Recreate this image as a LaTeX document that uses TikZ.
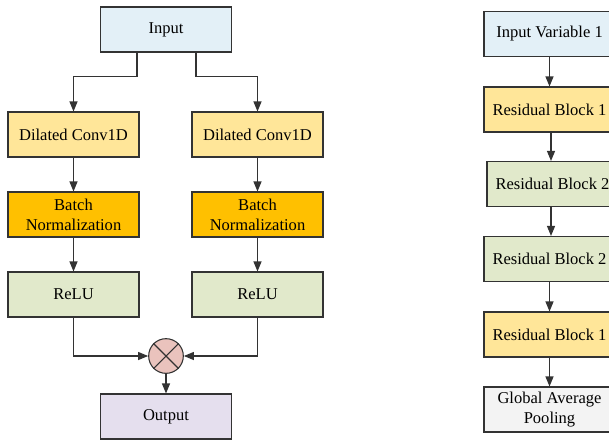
\documentclass[tikz,border=0pt]{standalone}
\usepackage{fontspec}
\setmainfont{Liberation Serif}
\usetikzlibrary{calc,arrows.meta}
\definecolor{inblue}{HTML}{E3F0F7}
\definecolor{convyellow}{HTML}{FFE699}
\definecolor{bnorange}{HTML}{FFC000}
\definecolor{relugreen}{HTML}{E1E9CB}
\definecolor{multpink}{HTML}{EAC3BD}
\definecolor{outviolet}{HTML}{E5DFEE}
\definecolor{poolgrey}{HTML}{F3F3F3}
\definecolor{edge}{HTML}{333333}
\tikzset{
	box/.style={draw=edge,line width=0.8pt,minimum width=98.25pt,minimum height=33.75pt,inner sep=0pt,align=center,font=\fontsize{12.4}{15.2}\selectfont},
	arr/.style={draw=edge,line width=0.8pt,-{Triangle[length=7.5pt,width=6pt]}}
}
\newcommand{\makebranch}[2]{
	\node[box,fill=convyellow] (conv#1) at (#2,134.5) {Dilated Conv1D};
	\node[box,fill=bnorange] (bn#1) at (#2,214.5) {Batch\\Normalization};
	\node[box,fill=relugreen] (relu#1) at (#2,294.5) {ReLU};
	\draw[arr] (conv#1) -- (bn#1);
	\draw[arr] (bn#1) -- (relu#1);
}

\begin{document}
\begin{tikzpicture}[x=0.75pt,y=-0.75pt]
		\useasboundingbox (0,0) rectangle (609,439);
		\clip (0,0) rectangle (609,439);
		% left: dilated branches
		\node[box,fill=inblue] (in) at (166,29.5) {Input};
		\makebranch{L}{73.5}
		\makebranch{R}{257.5}
		\draw[arr] ($(in.south)+(-29,0)$) -- ++(0,24) -| (convL);
		\draw[arr] ($(in.south)+(30,0)$) -- ++(0,24) -| (convR);
		\node[circle,draw=edge,line width=0.8pt,fill=multpink,minimum size=26pt,inner sep=0pt] (mult) at (166,356) {};
		\draw[edge,line width=0.8pt] (mult.45) -- (mult.225);
		\draw[edge,line width=0.8pt] (mult.135) -- (mult.315);
		\draw[arr] (reluL) |- (mult);
		\draw[arr] (reluR) |- (mult);
		\node[box,fill=outviolet] (out) at (166,416.5) {Output};
		\draw[arr] (mult) -- (out);
		% right: residual stack
		\node[box,fill=inblue] (var1) at (549.5,34) {Input Variable 1};
		\node[box,fill=convyellow] (res1) at (549.5,109.5) {Residual Block 1};
		\node[box,fill=relugreen] (res2) at (552.5,184) {Residual Block 2};
		\node[box,fill=relugreen] (res3) at (549.5,259) {Residual Block 2};
		\node[box,fill=convyellow] (res4) at (549.5,334.5) {Residual Block 1};
		\node[box,fill=poolgrey] (pool) at (549.5,409.5) {Global Average\\Pooling};
		\draw[arr] (var1) -- (res1);
		\draw[arr] (res1.south -| 551,0) -- (res2.north -| 551,0);
		\draw[arr] (res2.south -| 551,0) -- (res3.north -| 551,0);
		\draw[arr] (res3) -- (res4);
		\draw[arr] (res4) -- (pool);
	\end{tikzpicture}
\end{document}
